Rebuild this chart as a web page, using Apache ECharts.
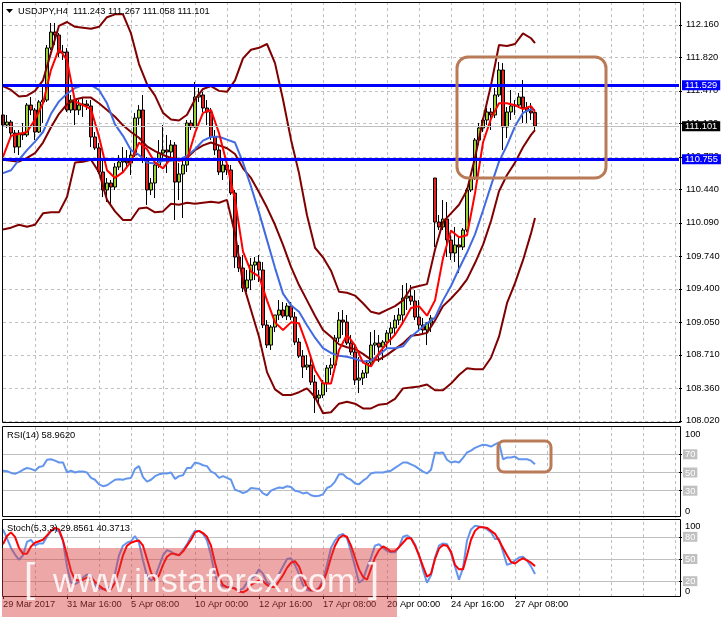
<!DOCTYPE html>
<html><head><meta charset="utf-8">
<script src="https://cdn.jsdelivr.net/npm/echarts@6/dist/echarts.min.js"></script>
<style>html,body{margin:0;padding:0;background:#fff}#c{width:723px;height:618px}</style>
</head><body><div id="c"></div>
<script>
const symbol = 'USDJPY,H4';
const dateLabels = ['29 Mar 2017','31 Mar 16:00','5 Apr 08:00','10 Apr 00:00','12 Apr 16:00','17 Apr 08:00','20 Apr 00:00','24 Apr 16:00','27 Apr 08:00'];
const priceTicks = [108.02,108.36,108.71,109.05,109.40,109.74,110.09,110.44,110.78,111.13,111.47,111.82,112.16];
const levels = [111.529, 110.755];
const rsiLevels = [30,50,70];
const stochLevels = [20,50,80];

const opens = [111.218,111.113,111.144,111.029,110.883,111.029,111.009,111.322,111.270,111.040,
111.354,111.374,111.918,112.085,112.054,111.866,111.876,111.270,111.374,111.270,
111.322,111.333,111.312,110.988,110.873,110.622,110.434,110.507,110.465,110.674,
110.726,110.737,110.716,110.799,111.186,111.270,110.747,110.434,110.507,110.695,
110.820,110.852,110.831,110.904,110.517,110.601,110.695,111.134,111.092,111.406,
111.427,111.291,111.249,110.988,110.852,110.622,110.695,110.643,110.402,109.733,
109.618,109.409,109.493,109.649,109.681,109.597,109.022,108.813,109.001,109.127,
109.179,109.116,109.221,109.106,108.844,108.698,108.583,108.604,108.426,108.259,
108.290,108.416,108.573,108.604,108.886,109.074,109.053,108.834,108.740,108.447,
108.468,108.520,108.625,108.813,108.834,108.792,108.844,108.938,108.991,109.074,
109.127,109.304,109.325,109.273,109.106,109.022,108.970,109.043,110.559,110.099,
110.047,110.130,109.911,109.775,109.859,109.838,110.015,110.434,110.559,110.956,
111.082,111.165,111.249,111.218,111.427,111.688,111.092,111.249,111.312,111.322,
111.406,111.291,111.260,111.243];
const highs = [111.249,111.218,111.165,111.061,111.061,111.134,111.343,111.406,111.291,111.374,
111.510,111.950,112.180,112.180,112.075,111.950,111.918,111.427,111.416,111.374,
111.406,111.374,111.374,111.040,110.925,110.747,110.559,110.538,110.716,110.799,
110.883,110.852,110.852,111.239,111.322,111.427,110.779,110.559,110.747,110.956,
111.113,111.009,110.956,110.935,110.716,110.779,111.165,111.165,111.563,111.500,
111.458,111.374,111.291,111.061,110.904,110.747,110.768,110.695,110.434,109.859,
109.754,109.597,109.723,109.733,109.754,109.681,109.074,109.022,109.127,109.283,
109.263,109.252,109.263,109.158,108.886,108.761,108.708,108.688,108.499,108.343,
108.447,108.604,108.677,108.918,109.158,109.179,109.127,108.918,108.813,108.688,
108.552,108.656,108.949,108.970,108.918,108.865,108.970,109.053,109.127,109.200,
109.440,109.461,109.440,109.388,109.283,109.095,109.053,109.127,110.559,110.172,
110.329,110.308,109.963,110.047,109.932,110.036,110.454,110.580,110.977,111.134,
111.186,111.291,111.291,111.500,111.772,111.761,111.301,111.479,111.374,111.448,
111.584,111.354,111.343,111.267];
const lows = [111.029,111.082,110.988,110.820,110.799,110.956,110.988,111.218,110.956,111.029,
111.134,111.354,111.897,111.950,111.824,111.793,111.249,111.239,111.113,111.218,
111.197,111.270,110.883,110.852,110.601,110.360,110.308,110.277,110.434,110.643,
110.622,110.664,110.590,110.779,111.113,110.716,110.277,110.381,110.350,110.664,
110.747,110.611,110.768,110.120,110.329,110.141,110.622,111.061,111.082,111.354,
111.249,111.113,110.956,110.799,110.590,110.538,110.590,110.381,109.618,109.576,
109.367,109.367,109.388,109.493,109.472,108.991,108.782,108.761,108.949,109.074,
109.095,109.074,109.074,108.813,108.677,108.468,108.552,108.395,108.102,108.186,
108.259,108.322,108.499,108.573,108.844,108.918,108.813,108.708,108.395,108.311,
108.395,108.468,108.593,108.708,108.635,108.656,108.782,108.813,108.918,109.022,
109.053,109.179,109.231,109.074,108.970,108.918,108.813,108.949,109.838,110.015,
110.015,109.733,109.702,109.681,109.566,109.806,109.994,110.413,110.538,110.904,
111.040,111.113,111.061,111.186,111.406,110.852,110.977,111.165,111.218,111.291,
111.134,111.134,111.165,111.058];
const closes = [111.113,111.144,111.029,110.883,111.029,111.009,111.322,111.270,111.040,111.354,
111.374,111.918,112.085,112.054,111.866,111.876,111.270,111.374,111.270,111.322,
111.333,111.312,110.988,110.873,110.622,110.434,110.507,110.465,110.674,110.726,
110.737,110.716,110.799,111.186,111.270,110.747,110.434,110.507,110.695,110.820,
110.852,110.831,110.904,110.517,110.601,110.695,111.134,111.092,111.406,111.427,
111.291,111.249,110.988,110.852,110.622,110.695,110.643,110.402,109.733,109.618,
109.409,109.493,109.649,109.681,109.597,109.022,108.813,109.001,109.127,109.179,
109.116,109.221,109.106,108.844,108.698,108.583,108.604,108.426,108.259,108.290,
108.416,108.573,108.604,108.886,109.074,109.053,108.834,108.740,108.447,108.468,
108.520,108.625,108.813,108.834,108.792,108.844,108.938,108.991,109.074,109.127,
109.304,109.325,109.273,109.106,109.022,108.970,109.043,109.095,110.099,110.047,
110.130,109.911,109.775,109.859,109.838,110.015,110.434,110.559,110.956,111.082,
111.165,111.249,111.218,111.427,111.688,111.092,111.249,111.312,111.322,111.406,
111.291,111.260,111.239,111.101];

// indicator lines read every second bar (bars 0,2,4,...,132 and the last bar 133)
const bbUpper = [111.52,111.48,111.41,111.42,111.47,111.58,111.87,112.15,112.19,112.14,112.13,112.12,112.14,112.24,112.27,112.27,112.07,111.75,111.54,111.42,111.24,111.17,111.16,111.22,111.38,111.49,111.52,111.47,111.46,111.58,111.81,111.90,111.92,111.96,111.76,111.38,110.96,110.61,110.17,109.83,109.73,109.59,109.37,109.36,109.33,109.25,109.16,109.14,109.18,109.22,109.28,109.41,109.43,109.45,109.81,110.10,110.19,110.28,110.43,110.77,111.17,111.53,111.95,111.94,111.96,112.07,112.02,111.97];
const bbMiddle = [110.75,110.74,110.73,110.77,110.82,110.93,111.09,111.23,111.33,111.38,111.40,111.40,111.34,111.27,111.20,111.11,111.04,110.98,110.89,110.84,110.80,110.77,110.75,110.77,110.85,110.90,110.93,110.90,110.87,110.81,110.66,110.56,110.41,110.25,110.07,109.86,109.63,109.44,109.28,109.12,108.97,108.90,108.82,108.79,108.77,108.72,108.66,108.66,108.71,108.77,108.83,108.91,108.92,108.94,109.07,109.22,109.30,109.39,109.50,109.67,109.86,110.11,110.42,110.59,110.72,110.88,111.01,111.06];
const bbLower = [110.02,110.04,110.07,110.05,110.07,110.19,110.20,110.20,110.36,110.72,110.73,110.75,110.62,110.33,110.21,110.12,110.12,110.24,110.25,110.20,110.21,110.29,110.28,110.30,110.29,110.30,110.31,110.30,110.33,109.98,109.46,109.18,108.90,108.53,108.35,108.29,108.29,108.32,108.36,108.27,108.10,108.11,108.20,108.22,108.20,108.15,108.15,108.19,108.20,108.25,108.36,108.37,108.38,108.40,108.34,108.34,108.41,108.50,108.57,108.56,108.56,108.68,108.90,109.25,109.46,109.70,109.98,110.14];
const maSlow = [110.61,110.64,110.75,110.85,110.94,111.04,111.23,111.36,111.44,111.50,111.53,111.53,111.48,111.34,111.12,111.00,110.85,110.80,110.72,110.71,110.74,110.74,110.75,110.79,110.86,110.95,110.99,110.99,110.96,110.93,110.72,110.47,110.20,109.91,109.62,109.35,109.23,109.16,109.02,108.89,108.78,108.73,108.70,108.69,108.67,108.64,108.65,108.71,108.78,108.78,108.80,108.90,108.97,109.04,109.10,109.28,109.43,109.61,109.78,109.97,110.22,110.48,110.73,110.90,111.10,111.24,111.28,111.27];
const maFast = [110.78,111.00,111.02,111.04,111.17,111.34,111.69,111.91,111.79,111.36,111.32,111.28,110.99,110.64,110.56,110.62,110.73,110.93,110.86,110.72,110.66,110.77,110.74,110.75,111.03,111.24,111.27,111.03,110.70,110.33,109.79,109.58,109.53,109.28,109.05,108.97,109.05,109.04,108.81,108.55,108.41,108.41,108.76,108.92,108.81,108.63,108.59,108.73,108.83,108.92,109.05,109.20,109.22,109.12,109.28,109.72,110.01,109.94,109.96,110.40,110.93,111.18,111.34,111.34,111.32,111.28,111.31,111.25];

const rsi = [52,51.5,49.5,48.5,50.5,53,55,54,52,56,
57,64,64.5,63,61,61,50,52,50,51,
51,50,44,42,37,35,36,39,42,42.5,
42,43.5,44,54,57,45,40,42,46,48,
49,49,50,43,46,47,55,55,61,60,
58,57,51,49,44,46,44,42,31,29.5,
27.5,29,33,32.5,32,27,25,30,32,33.5,
33,35,34,30,29,27,28,25,24,24.5,
26,33,35,40,48,48,44,42,38,37,
41,44,49,50,50,50,51,52,55,58,
61,61,59,57,54,51,49,53,72,71.5,
72,64,61,62,61,66,72,74,77,79,
80.5,80,78.5,81,83,64.5,66.5,66.5,67.5,64.5,
64.5,64.5,63,58.962];
const stochK = [90,78,65,56,49,55,73,76,68,71,
71,80,88,90,87,74,40,18,16,19,
25,29,28,15,11,9,9,14,30,55,
68,72,74,81,72,48,27,21,25,40,
55,62,60,56,55,62,70,80,88,88,
84,75,55,28,16,13,12,13,10,8,
10,18,24,27,36,30,18,15,20,30,
40,50,51,42,30,15,8,7,8,11,
22,42,65,75,82,84,78,60,40,18,
22,38,52,68,70,65,61,59,59,66,
80,82,78,70,55,35,18,28,52,68,
71,70,58,40,22,38,75,90,95,94,
93,90,86,77,77,60,42,44,48,52,
53,48,40,29.8561];
const stochD = [70,81,86,80,65,57,57,67,72,74,
76,82,88,92,90,75,55,34,22,21,
22,25,25,19,14,10,7,9,18,35,
55,68,72,74,75,68,50,32,21,28,
42,53,57,57,55,60,68,76,86,88,
85,80,68,45,25,15,12,11,10,6,
5,8,15,18,21,20,15,12,12,20,
28,38,45,47,40,25,12,8,7,10,
18,33,52,68,78,82,80,68,52,36,
26,22,37,52,62,67,64,60,61,66,
72,78,78,68,55,40,26,30,50,64,
69,68,60,42,36,36,55,76,88,93,
93,92,88,84,75,65,55,46,44,48,
51,48,45,40.3713];

// ---------- build ----------
const N_SLOTS = 170;
const cats = Array.from({length: N_SLOTS}, (_, i) => String(i));
const sampleIdx = [];
for (let i = 0; i < opens.length - 1; i += 2) sampleIdx.push(i);
sampleIdx.push(opens.length - 1);
const pairs = arr => arr.map((v, k) => [sampleIdx[k], v]);
const candles = opens.map((o, i) => [o, closes[i], lows[i], highs[i]]);
const last = opens.length - 1;
const FONT = '"Liberation Sans", Arial, sans-serif';
const FS = 9.3;
const isLabelIdx = i => i % 16 === 0 && (i / 16) < dateLabels.length;

function xAx(g, showLabels) {
  return {
    type: 'category', gridIndex: g, data: cats, boundaryGap: false,
    axisLine: {show: false},
    axisTick: {show: showLabels, interval: (i) => isLabelIdx(i), length: 3, lineStyle: {color: '#000'}},
    axisLabel: {show: showLabels, interval: (i) => isLabelIdx(i), formatter: (v, i) => isLabelIdx(i) ? dateLabels[i / 16] : '',
      align: 'left', margin: 4, color: '#000', fontSize: FS, fontFamily: FONT, hideOverlap: false},
    splitLine: {show: true, interval: (i) => i % 8 === 0 && i > 0, lineStyle: {color: '#c0c0c0', type: [3, 3], width: 1}}
  };
}

const chart = echarts.init(document.getElementById('c'), null, {renderer: 'canvas'});
const lineS = (name, data, color, x, y, w) => ({
  name, type: 'line', xAxisIndex: x, yAxisIndex: y, data, symbol: 'none', connectNulls: true,
  lineStyle: {color, width: w}, itemStyle: {color}, animation: false, z: 3
});
const boxLabel = (bg) => ({position: 'end', distance: 3, formatter: p => (+p.value).toFixed(3), color: '#fff',
  backgroundColor: bg, padding: [1, 3, 0, 3], fontSize: FS, fontFamily: FONT});
const levelRich = (topPad, botPad) => ({
  top: {padding: [topPad, 0, 0, 2], lineHeight: 8, fontSize: FS, fontFamily: FONT, color: '#000'},
  bot: {padding: [0, 0, botPad, 2], lineHeight: 8, fontSize: FS, fontFamily: FONT, color: '#000'},
  lvl: {backgroundColor: '#c0c0c0', color: '#fff', padding: [1, 2, 0, 2], lineHeight: 9, fontSize: FS, fontFamily: FONT}
});
const levelFmt = v => v === 100 ? '{top|100}' : (v === 0 ? '{bot|0}' : '{lvl|' + v + '}');

const option = {
  animation: false,
  backgroundColor: '#fff',
  grid: [
    {left: 3, right: 44, top: 2, height: 421, outerBoundsMode: 'none'},
    {left: 3, right: 44, top: 427, height: 91, outerBoundsMode: 'none'},
    {left: 3, right: 44, top: 522, height: 74, outerBoundsMode: 'none'}
  ],
  xAxis: [xAx(0, false), xAx(1, false), xAx(2, true)],
  yAxis: [
    {type: 'value', gridIndex: 0, position: 'right', min: 107.998, max: 112.399,
      axisLine: {show: false},
      axisTick: {show: true, customValues: priceTicks, length: 3, lineStyle: {color: '#000'}},
      axisLabel: {customValues: priceTicks, formatter: v => v.toFixed(3), margin: 7, color: '#000', fontSize: FS, fontFamily: FONT, hideOverlap: false},
      splitLine: {show: true, lineStyle: {color: '#c0c0c0', type: [3, 3], width: 1}}},
    {type: 'value', gridIndex: 1, position: 'right', min: 0, max: 100,
      axisLine: {show: false},
      axisTick: {show: true, customValues: rsiLevels, length: 3, lineStyle: {color: '#000'}},
      axisLabel: {customValues: [0].concat(rsiLevels, [100]), margin: 4, color: '#000', fontSize: FS, fontFamily: FONT,
        hideOverlap: false, showMinLabel: true, showMaxLabel: true,
        formatter: levelFmt, rich: levelRich(14, 14)},
      splitLine: {show: true, lineStyle: {color: '#c0c0c0', type: 'solid', width: 1}}},
    {type: 'value', gridIndex: 2, position: 'right', min: 0, max: 100,
      axisLine: {show: false},
      axisTick: {show: true, customValues: stochLevels, length: 3, lineStyle: {color: '#000'}},
      axisLabel: {customValues: [0].concat(stochLevels, [100]), margin: 4, color: '#000', fontSize: FS, fontFamily: FONT,
        hideOverlap: false, showMinLabel: true, showMaxLabel: true,
        formatter: levelFmt, rich: levelRich(8, 10)},
      splitLine: {show: true, lineStyle: {color: '#c0c0c0', type: 'solid', width: 1}}}
  ],
  series: [
    {name: 'price', type: 'candlestick', xAxisIndex: 0, yAxisIndex: 0, data: candles, barWidth: 3, z: 2,
      itemStyle: {color: '#9acd32', color0: '#e32222', borderColor: '#000', borderColor0: '#000', borderWidth: 1},
      markLine: {symbol: 'none', silent: true, animation: false, precision: 3,
        data: [
          {yAxis: closes[last], lineStyle: {color: '#c0c0c0', width: 1, type: 'solid'}, label: boxLabel('#000')},
          {yAxis: levels[0], lineStyle: {color: '#0000ff', width: 3, type: 'solid'}, label: boxLabel('#0000ff')},
          {yAxis: levels[1], lineStyle: {color: '#0000ff', width: 3, type: 'solid'}, label: boxLabel('#0000ff')}
        ]}},
    lineS('bbUpper', pairs(bbUpper), '#800000', 0, 0, 2),
    lineS('bbMiddle', pairs(bbMiddle), '#800000', 0, 0, 2),
    lineS('bbLower', pairs(bbLower), '#800000', 0, 0, 2),
    lineS('maSlow', pairs(maSlow), '#4169e1', 0, 0, 2),
    lineS('maFast', pairs(maFast), '#ff0000', 0, 0, 2),
    lineS('rsi', rsi, '#6495ed', 1, 1, 2),
    lineS('stochK', stochK, '#6495ed', 2, 2, 2),
    lineS('stochD', stochD, '#ff0000', 2, 2, 2)
  ],
  graphic: [
    {type: 'rect', z: 50, shape: {x: 2.5, y: 2.5, width: 678, height: 420}, style: {fill: 'none', stroke: '#000', lineWidth: 1}},
    {type: 'rect', z: 50, shape: {x: 2.5, y: 426.5, width: 678, height: 90}, style: {fill: 'none', stroke: '#000', lineWidth: 1}},
    {type: 'rect', z: 50, shape: {x: 2.5, y: 519.5, width: 678, height: 77}, style: {fill: 'none', stroke: '#000', lineWidth: 1}},
    {type: 'polygon', z: 50, shape: {points: [[6, 9], [13, 9], [9.5, 13]]}, style: {fill: '#000'}},
    {type: 'text', z: 50, x: 18, y: 11, style: {text: symbol + '  ' + [opens[last], highs[last], lows[last], closes[last]].map(v => v.toFixed(3)).join(' '),
      fill: '#000', font: FS + 'px ' + FONT, verticalAlign: 'middle'}},
    {type: 'text', z: 50, x: 7, y: 435, style: {text: 'RSI(14) ' + rsi[last].toFixed(4), fill: '#000', font: FS + 'px ' + FONT, verticalAlign: 'middle'}},
    {type: 'text', z: 50, x: 7, y: 528, style: {text: 'Stoch(5,3,3) ' + stochK[last].toFixed(4) + ' ' + stochD[last].toFixed(4), fill: '#000', font: FS + 'px ' + FONT, verticalAlign: 'middle'}},
    {type: 'rect', z: 60, shape: {x: 457, y: 57, width: 149, height: 121, r: 11}, style: {fill: 'none', stroke: '#b97a57', lineWidth: 3}},
    {type: 'rect', z: 60, shape: {x: 498, y: 441, width: 53, height: 31, r: 6}, style: {fill: 'none', stroke: '#b97a57', lineWidth: 3}},
    {type: 'rect', z: 90, shape: {x: 2, y: 548, width: 395, height: 69}, style: {fill: 'rgba(215,60,60,0.45)'}},
    {type: 'text', z: 91, x: 24, y: 581, style: {text: '[', fill: 'rgba(255,255,255,0.85)', font: '40px ' + FONT, verticalAlign: 'middle'}},
    {type: 'text', z: 91, x: 53, y: 583, style: {text: 'www.instaforex.com', fill: 'rgba(255,255,255,0.85)', font: '34px ' + FONT, verticalAlign: 'middle'}},
    {type: 'text', z: 91, x: 368, y: 581, style: {text: ']', fill: 'rgba(255,255,255,0.85)', font: '40px ' + FONT, verticalAlign: 'middle'}}
  ]
};
chart.setOption(option);
</script>
</body></html>
